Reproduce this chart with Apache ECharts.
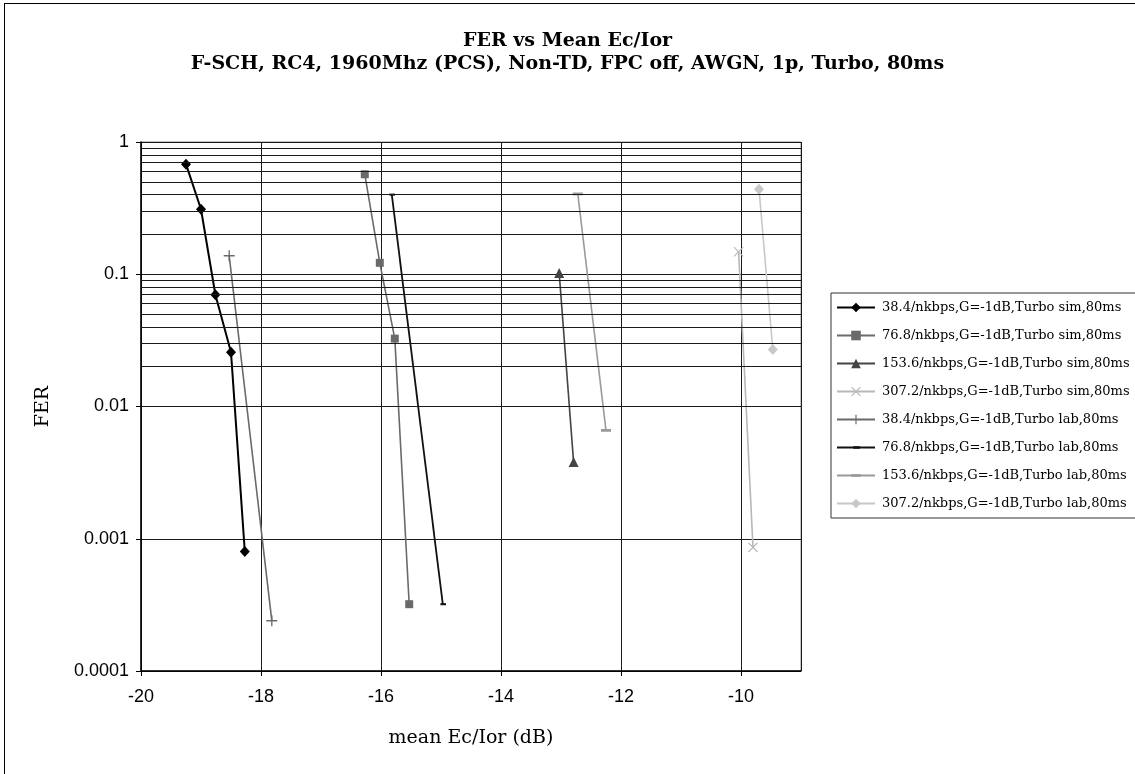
<!DOCTYPE html>
<html>
<head>
<meta charset="utf-8">
<script src="https://cdn.jsdelivr.net/npm/echarts@6/dist/echarts.min.js"></script>
<style>
html,body{margin:0;padding:0;background:#fff;}
#frame{position:absolute;left:4px;top:3px;width:1140px;height:780px;border:1px solid #000;box-sizing:border-box;}
#chart{position:absolute;left:0;top:0;width:1135px;height:774px;}
</style>
</head>
<body>
<div id="frame"></div>
<div id="chart"></div>
<script>
// ---- data ----
const titleLine1 = 'FER vs Mean Ec/Ior';
const titleLine2 = 'F-SCH, RC4, 1960Mhz (PCS), Non-TD, FPC off, AWGN, 1p, Turbo, 80ms';
const xAxisName = 'mean Ec/Ior (dB)';
const yAxisName = 'FER';
const yTickValues = [1, 0.1, 0.01, 0.001, 0.0001];
const yTickLabels = ['1', '0.1', '0.01', '0.001', '0.0001'];
const yMinorGrid = [
  0.9,0.8,0.7,0.6,0.5,0.4,0.3,0.2,
  0.09,0.08,0.07,0.06,0.05,0.04,0.03,0.02,
  0.009,0.008,0.007,0.006,0.005,0.004,0.003,0.002,
  0.0009,0.0008,0.0007,0.0006,0.0005,0.0004,0.0003,0.0002
];
const seriesNames = [
  '38.4/nkbps,G=-1dB,Turbo sim,80ms',
  '76.8/nkbps,G=-1dB,Turbo sim,80ms',
  '153.6/nkbps,G=-1dB,Turbo sim,80ms',
  '307.2/nkbps,G=-1dB,Turbo sim,80ms',
  '38.4/nkbps,G=-1dB,Turbo lab,80ms',
  '76.8/nkbps,G=-1dB,Turbo lab,80ms',
  '153.6/nkbps,G=-1dB,Turbo lab,80ms',
  '307.2/nkbps,G=-1dB,Turbo lab,80ms'
];
const x38sim  = [-19.25, -19.0, -18.76, -18.5, -18.27];
const y38sim  = [0.68, 0.31, 0.07, 0.0257, 0.0008];
const x77sim  = [-16.27, -16.02, -15.77, -15.53];
const y77sim  = [0.57, 0.122, 0.0326, 0.00032];
const x154sim = [-13.03, -12.79];
const y154sim = [0.102, 0.0038];
const x307sim = [-10.04, -9.80];
const y307sim = [0.148, 0.00086];
const x38lab  = [-18.53, -17.82];
const y38lab  = [0.138, 0.00024];
const x77lab  = [-15.82, -14.97];
const y77lab  = [0.40, 0.00032];
const x154lab = [-12.72, -12.25];
const y154lab = [0.405, 0.0066];
const x307lab = [-9.70, -9.47];
const y307lab = [0.44, 0.027];

// ---- styling ----
const pairs = (xs, ys) => xs.map((x, i) => [x, ys[i]]);
const plusPath = 'path://M4.4,0H5.6V4.4H10V5.6H5.6V10H4.4V5.6H0V4.4H4.4Z';
const crossPath = 'path://M0.8,0L5,4.2L9.2,0L10,0.8L5.8,5L10,9.2L9.2,10L5,5.8L0.8,10L0,9.2L4.2,5L0,0.8Z';
const shortDash = 'path://M0,0M10,10M2,3.7h7v2.6h-7z';
const longDash = 'path://M0,0M10,10M0,3.6h10v2.8h-10z';

const styles = [
  {color:'#000000', symbol:'diamond', size:[10,11], width:2},
  {color:'#6a6a6a', symbol:'rect', size:8, width:1.6},
  {color:'#444444', symbol:'triangle', size:10, width:1.6},
  {color:'#b8b8b8', symbol:crossPath, size:10, width:1.6},
  {color:'#6a6a6a', symbol:plusPath, size:11, width:1.6},
  {color:'#111111', symbol:shortDash, size:8, width:1.8},
  {color:'#9a9a9a', symbol:longDash, size:10, width:1.6},
  {color:'#c8c8c8', symbol:'diamond', size:[10,11], width:1.6}
];
const dataSets = [
  pairs(x38sim, y38sim), pairs(x77sim, y77sim), pairs(x154sim, y154sim), pairs(x307sim, y307sim),
  pairs(x38lab, y38lab), pairs(x77lab, y77lab), pairs(x154lab, y154lab), pairs(x307lab, y307lab)
];

const series = [{
  name: 'minorGrid',
  type: 'line',
  data: [],
  z: 1,
  silent: true,
  markLine: {
    silent: true,
    symbol: 'none',
    animation: false,
    label: {show: false},
    lineStyle: {color: '#1a1a1a', type: 'solid', width: 1},
    data: yMinorGrid.map(v => ({yAxis: v}))
  }
}];
seriesNames.forEach((name, i) => {
  const s = styles[i];
  series.push({
    name: name,
    type: 'line',
    data: dataSets[i],
    z: 3,
    symbol: s.symbol,
    symbolSize: s.size,
    showAllSymbol: true,
    lineStyle: {color: s.color, width: s.width},
    itemStyle: {color: s.color, borderWidth: 0},
    emphasis: {disabled: true}
  });
});

const chart = echarts.init(document.getElementById('chart'), null, {renderer: 'canvas'});
chart.setOption({
  animation: false,
  backgroundColor: 'transparent',
  title: {
    text: titleLine1 + '\n' + titleLine2,
    left: 'center',
    top: 25,
    textStyle: {
      fontFamily: 'DejaVu Serif', fontWeight: 'bold', fontSize: 19, lineHeight: 23, color: '#000'
    }
  },
  grid: {left: 141, top: 142, right: 334, bottom: 103, show: true, borderColor: '#8a8a8a', borderWidth: 1, backgroundColor: 'transparent'},
  legend: {
    orient: 'vertical',
    left: 831,
    top: 293,
    data: seriesNames,
    itemWidth: 38,
    itemHeight: 12,
    itemGap: 15,
    padding: [8, 8, 8, 5],
    borderColor: '#333',
    borderWidth: 1,
    backgroundColor: '#fff',
    selectedMode: false,
    textStyle: {fontFamily: 'DejaVu Serif', fontSize: 13, color: '#000', padding: [0,0,0,2]}
  },
  xAxis: {
    type: 'value',
    min: -20, max: -9, interval: 2,
    name: xAxisName,
    nameLocation: 'middle',
    nameGap: 58,
    nameTextStyle: {fontFamily: 'DejaVu Serif', fontSize: 19, color: '#000'},
    axisLine: {show: true, onZero: false, lineStyle: {color: '#000', width: 1.5}},
    axisTick: {show: true, inside: false, length: 5, lineStyle: {color: '#000'}},
    axisLabel: {fontFamily: 'Liberation Sans', fontSize: 18, color: '#000', margin: 17,
      showMaxLabel: false},
    splitLine: {show: true, lineStyle: {color: '#1a1a1a', width: 1}}
  },
  yAxis: {
    type: 'log',
    logBase: 10,
    min: 0.0001, max: 1,
    name: yAxisName,
    nameLocation: 'middle',
    nameGap: 88,
    nameRotate: 90,
    nameTextStyle: {fontFamily: 'DejaVu Serif', fontSize: 19, color: '#000'},
    axisLine: {show: true, lineStyle: {color: '#000', width: 1.5}},
    axisTick: {show: true, inside: false, length: 5, lineStyle: {color: '#000'}},
    axisLabel: {
      fontFamily: 'Liberation Sans', fontSize: 18, color: '#000', margin: 12,
      formatter: function (v) {
        for (let i = 0; i < yTickValues.length; i++) {
          if (Math.abs(Math.log10(v) - Math.log10(yTickValues[i])) < 1e-6) return yTickLabels[i];
        }
        return '';
      }
    },
    splitLine: {show: true, lineStyle: {color: '#1a1a1a', width: 1}}
  },
  series: series
});
</script>
</body>
</html>
